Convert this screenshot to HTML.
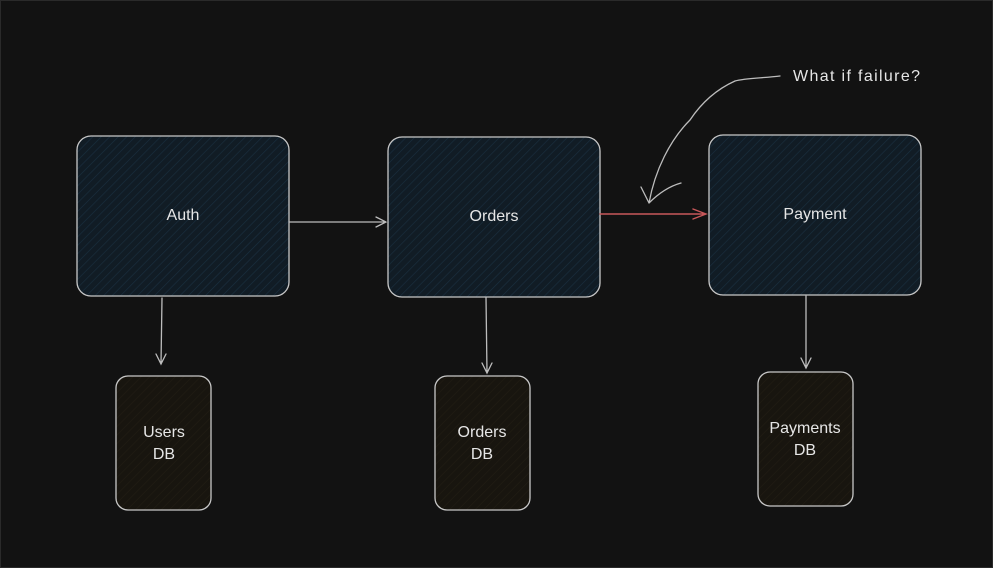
<!DOCTYPE html>
<html><head><style>
html,body{margin:0;padding:0;background:#121212;}
svg{display:block}
text{font-family:"Liberation Sans",sans-serif;fill:#e6e6e6;font-size:16px;text-anchor:middle}
</style></head><body>
<svg width="993" height="568" viewBox="0 0 993 568">
<defs>
<pattern id="h" width="6" height="6" patternUnits="userSpaceOnUse" patternTransform="rotate(45)">
<rect width="6" height="6" fill="#111c25"/><line x1="0" y1="0" x2="0" y2="6" stroke="#1a3040" stroke-width="1.2"/>
</pattern>
<pattern id="d" width="6" height="6" patternUnits="userSpaceOnUse" patternTransform="rotate(45)">
<rect width="6" height="6" fill="#18150f"/><line x1="0" y1="0" x2="0" y2="6" stroke="#221d14" stroke-width="1.2"/>
</pattern>
</defs>
<rect x="0.5" y="0.5" width="992" height="567" fill="#121212" stroke="#2a2a2a"/>
<g stroke="#c8c8c8" stroke-width="1.3">
<rect x="77" y="136" width="212" height="160" rx="14" fill="url(#h)"/>
<rect x="388" y="137" width="212" height="160" rx="14" fill="url(#h)"/>
<rect x="709" y="135" width="212" height="160" rx="14" fill="url(#h)"/>
<rect x="116" y="376" width="95" height="134" rx="12" fill="url(#d)"/>
<rect x="435" y="376" width="95" height="134" rx="12" fill="url(#d)"/>
<rect x="758" y="372" width="95" height="134" rx="12" fill="url(#d)"/>
</g>
<g fill="none" stroke="#bdbdbd" stroke-width="1.3" stroke-linecap="round">
<path d="M289 222 L386 222 M376 217 L386 222 L376 227"/>
<path d="M162 298 L161 364 M156 354 L161 364 L166 354"/>
<path d="M486 297 L487 373 M482 363 L487 373 L492 363"/>
<path d="M806 296 L806 368 M801 358 L806 368 L811 358"/>
<path d="M780 76 C765 78 745 78 735 81 C715 90 700 105 690 120 C670 140 655 170 649 203 M641 187 L649 203 M649 203 C660 192 670 186 681 183"/>
</g>
<g fill="none" stroke="#c8585a" stroke-width="1.4" stroke-linecap="round">
<path d="M600 214 L706 214 M693 209 L706 214 L693 219"/>
</g>
<text x="183" y="220">Auth</text>
<text x="494" y="221">Orders</text>
<text x="815" y="219">Payment</text>
<text x="164" y="437">Users</text>
<text x="164" y="459">DB</text>
<text x="482" y="437">Orders</text>
<text x="482" y="459">DB</text>
<text x="805" y="433">Payments</text>
<text x="805" y="455">DB</text>
<text x="793" y="81" style="font-size:16px;text-anchor:start" textLength="127">What if failure?</text>
</svg>
</body></html>
